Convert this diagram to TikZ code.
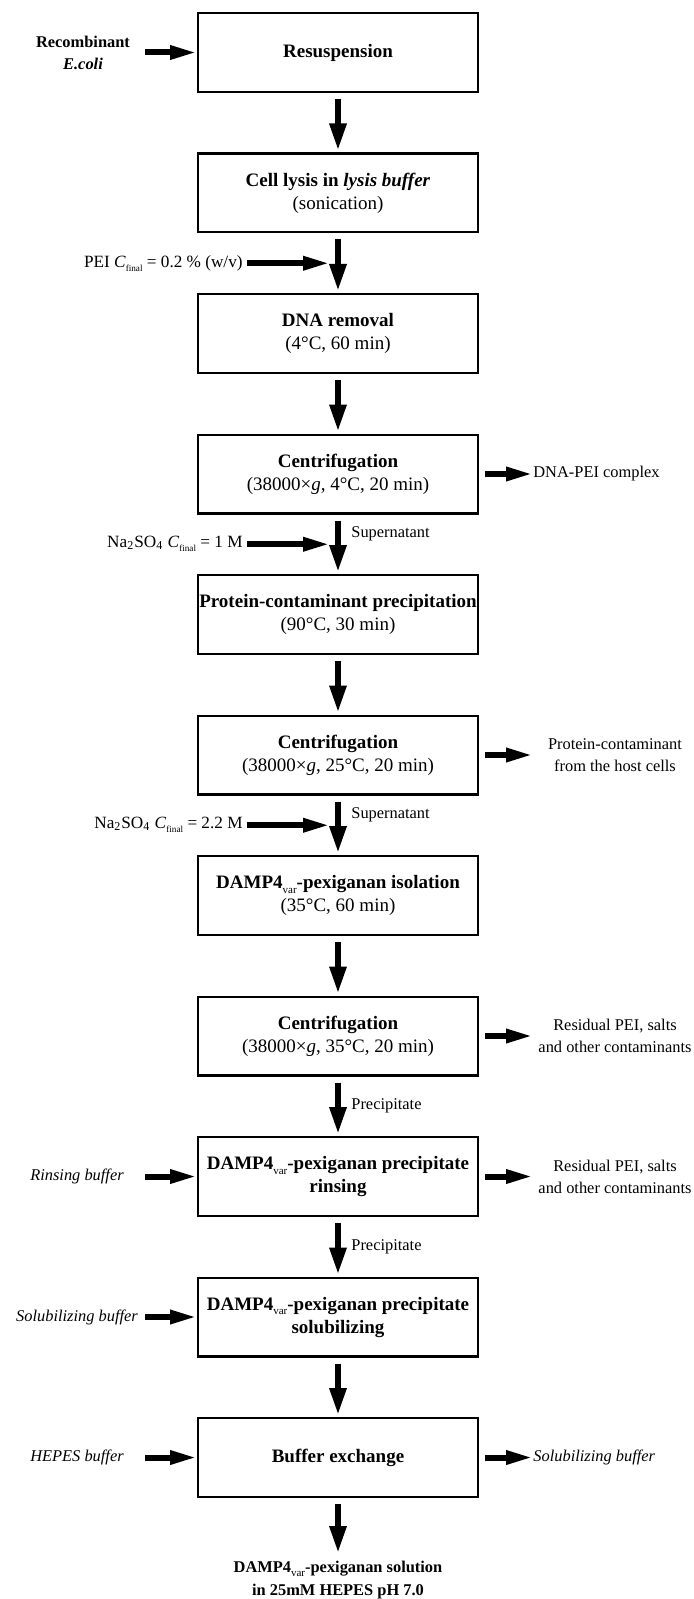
\documentclass[tikz,border=0pt]{standalone}
\usepackage{fontspec}
\setmainfont{Liberation Serif}
\usetikzlibrary{positioning, arrows.meta}

\newcommand{\cfinal}{\textit{C}\raisebox{-0.5ex}{\fontsize{4.6}{5}\selectfont final}}
\newcommand{\dampvar}{DAMP4\raisebox{-0.55ex}{\fontsize{5.5}{6}\selectfont\mdseries var}}

\begin{document}
\begin{tikzpicture}
\tikzstyle{proc}=[rectangle, draw=black, line width=1.2pt, minimum width=139.8pt, minimum height=39.3pt, inner sep=0pt, align=center, font=\fontsize{9.5}{11.5}\selectfont, node distance=29.75pt]
\tikzstyle{connect}=[-{Triangle[length=13.5pt, width=8pt]}, line width=3pt, shorten <=3pt, shorten >=1pt]
\tikzstyle{feed}=[-{Triangle[length=13.5pt, width=6.5pt]}, line width=3pt]
\tikzstyle{outflow}=[feed, shorten <=3pt]
\tikzstyle{note}=[inner sep=0pt, align=center, font=\fontsize{8.2}{11}\selectfont]
\tikzstyle{addnote}=[inner sep=2pt, font=\fontsize{8.6}{10}\selectfont]

% 1. Frame
%%%%%%%%%%
\useasboundingbox (0,0) rectangle (347pt,-799.5pt);
\coordinate (lcol) at (38.5pt,0);
\coordinate (rcol) at (307.5pt,0);

% 2. Nodes
%%%%%%%%%%
\node[proc] (resusp) at (169pt,-26.25pt) {\textbf{Resuspension}};
\node[proc] (lysis) [below=of resusp] {\textbf{Cell lysis in \textit{lysis buffer}}\\(sonication)};
\node[proc] (dnarem) [below=of lysis] {\textbf{DNA removal}\\(4°C, 60 min)};
\node[proc] (cent1) [below=of dnarem] {\textbf{Centrifugation}\\(38000×\textit{g}, 4°C, 20 min)};
\node[proc] (precip) [below=of cent1] {\textbf{Protein-contaminant precipitation}\\(90°C, 30 min)};
\node[proc] (cent2) [below=of precip] {\textbf{Centrifugation}\\(38000×\textit{g}, 25°C, 20 min)};
\node[proc] (isol) [below=of cent2] {\textbf{\dampvar-pexiganan isolation}\\(35°C, 60 min)};
\node[proc] (cent3) [below=of isol] {\textbf{Centrifugation}\\(38000×\textit{g}, 35°C, 20 min)};
\node[proc] (rinse) [below=of cent3] {\textbf{\dampvar-pexiganan precipitate}\\\textbf{rinsing}};
\node[proc] (solub) [below=of rinse] {\textbf{\dampvar-pexiganan precipitate}\\\textbf{solubilizing}};
\node[proc] (bufex) [below=of solub] {\textbf{Buffer exchange}};
\node[note, font=\fontsize{8.2}{11.5}\selectfont\bfseries] (product) [below=31.5pt of bufex] {\dampvar-pexiganan solution\\in 25mM HEPES pH 7.0};

% inputs on the left
\coordinate[left=26pt of resusp] (resuspin);
\node[note, xshift=3pt, font=\fontsize{8.2}{11}\selectfont\bfseries] (ecoli) at (resuspin -| lcol) {Recombinant\\\textit{E.coli}};
\coordinate[left=26pt of rinse] (rinsein);
\node[note, font=\fontsize{8.2}{11}\selectfont\itshape] (rinsebuf) at (rinsein -| lcol) {Rinsing buffer};
\coordinate[left=26pt of solub] (solubin);
\node[note, font=\fontsize{8.2}{11}\selectfont\itshape] (solubbuf) at (solubin -| lcol) {Solubilizing buffer};
\coordinate[left=26pt of bufex] (bufexin);
\node[note, font=\fontsize{8.2}{11}\selectfont\itshape] (hepes) at (bufexin -| lcol) {HEPES buffer};

% additions between the steps
\coordinate[below=14.875pt of lysis] (lysgap);
\coordinate[left=4pt of lysgap] (lysfeed);
\node[addnote] (pei) [left=41.5pt of lysfeed] {PEI \cfinal{} = 0.2 \% (w/v)};
\coordinate[below=14.875pt of cent1] (cent1gap);
\coordinate[left=4pt of cent1gap] (cent1feed);
\node[addnote] (naso1) [left=41.5pt of cent1feed] {Na\textsubscript{2}SO\textsubscript{4} \cfinal{} = 1 M};
\node[note] (super1) [right=6.5pt of cent1gap, yshift=5pt] {Supernatant};
\coordinate[below=14.875pt of cent2] (cent2gap);
\coordinate[left=4pt of cent2gap] (cent2feed);
\node[addnote] (naso2) [left=41.5pt of cent2feed] {Na\textsubscript{2}SO\textsubscript{4} \cfinal{} = 2.2 M};
\node[note] (super2) [right=6.5pt of cent2gap, yshift=5pt] {Supernatant};
\coordinate[below=14.875pt of cent3] (cent3gap);
\node[note] (prec1) [right=6.5pt of cent3gap] {Precipitate};
\coordinate[below=14.875pt of rinse] (rinsegap);
\node[note] (prec2) [right=6.5pt of rinsegap] {Precipitate};

% outputs on the right
\coordinate[right=27pt of cent1] (cent1out);
\node[note] (dnapei) [right=0pt of cent1out] {DNA-PEI complex};
\coordinate[right=27pt of cent2] (cent2out);
\node[note] (hostcells) at (cent2out -| rcol) {Protein-contaminant\\from the host cells};
\coordinate[right=27pt of cent3] (cent3out);
\node[note] (residual1) at (cent3out -| rcol) {Residual PEI, salts\\and other contaminants};
\coordinate[right=27pt of rinse] (rinseout);
\node[note] (residual2) at (rinseout -| rcol) {Residual PEI, salts\\and other contaminants};
\coordinate[right=27pt of bufex] (bufexout);
\node[note, font=\fontsize{8.2}{11}\selectfont\itshape] (oldbuf) [right=0pt of bufexout] {Solubilizing buffer};

% 3. Arrows
%%%%%%%%%%%
\path (resusp) edge [connect] (lysis)
      (lysis)  edge [connect] (dnarem)
      (dnarem) edge [connect] (cent1)
      (cent1)  edge [connect] (precip)
      (precip) edge [connect] (cent2)
      (cent2)  edge [connect] (isol)
      (isol)   edge [connect] (cent3)
      (cent3)  edge [connect] (rinse)
      (rinse)  edge [connect] (solub)
      (solub)  edge [connect] (bufex)
      (bufex)  edge [connect, shorten >=4pt] (product);
\path (resuspin) edge [feed] (resusp)
      (rinsein)  edge [feed] (rinse)
      (solubin)  edge [feed] (solub)
      (bufexin)  edge [feed] (bufex)
      (pei)      edge [feed] (lysfeed)
      (naso1)    edge [feed] (cent1feed)
      (naso2)    edge [feed] (cent2feed);
\path (cent1) edge [outflow] (cent1out)
      (cent2) edge [outflow] (cent2out)
      (cent3) edge [outflow] (cent3out)
      (rinse) edge [outflow] (rinseout)
      (bufex) edge [outflow] (bufexout);

\end{tikzpicture}
\end{document}
